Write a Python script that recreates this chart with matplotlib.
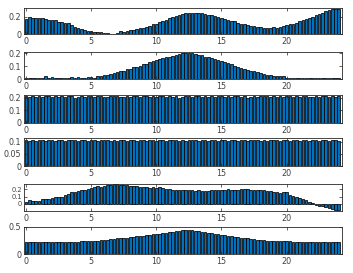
import matplotlib
matplotlib.use("Agg")
import matplotlib.pyplot as plt
import numpy as np

hours = [i * 0.25 for i in range(97)]

s1 = [0.175, 0.195, 0.19, 0.18, 0.185, 0.18, 0.175, 0.165, 0.165, 0.16, 0.14, 0.135,
      0.13, 0.125, 0.10, 0.085, 0.075, 0.06, 0.045, 0.04, 0.035, 0.025, 0.02, 0.025,
      0.015, 0.01, 0.005, 0.004, 0.01, 0.03, 0.025, 0.035, 0.045, 0.05, 0.06, 0.065,
      0.075, 0.085, 0.095, 0.11, 0.12, 0.135, 0.15, 0.165, 0.185, 0.2, 0.21, 0.225,
      0.23, 0.24, 0.245, 0.24, 0.245, 0.24, 0.245, 0.235, 0.225, 0.215, 0.205, 0.2,
      0.185, 0.175, 0.16, 0.155, 0.145, 0.13, 0.12, 0.115, 0.1, 0.095, 0.09, 0.085,
      0.08, 0.07, 0.065, 0.07, 0.08, 0.075, 0.08, 0.09, 0.1, 0.11, 0.12, 0.13,
      0.145, 0.16, 0.17, 0.185, 0.2, 0.215, 0.23, 0.245, 0.26, 0.275, 0.285, 0.285, 0.285]

s2 = [0.005, 0.01, 0.005, 0.01, 0.005, 0.005, 0.02, 0.005, 0.015, 0.005, 0.005, 0.01,
      0.005, 0.005, 0.012, 0.005, 0.015, 0.01, 0.005, 0.015, 0.015, 0.01, 0.02, 0.025,
      0.03, 0.035, 0.04, 0.045, 0.055, 0.06, 0.065, 0.075, 0.08, 0.09, 0.095, 0.105,
      0.115, 0.12, 0.13, 0.14, 0.145, 0.155, 0.16, 0.17, 0.175, 0.18, 0.185, 0.195,
      0.2, 0.205, 0.205, 0.2, 0.195, 0.19, 0.185, 0.175, 0.17, 0.16, 0.155, 0.145,
      0.14, 0.13, 0.125, 0.115, 0.105, 0.095, 0.085, 0.08, 0.07, 0.065, 0.06, 0.055,
      0.045, 0.04, 0.035, 0.03, 0.025, 0.025, 0.025, 0.02, 0.01, 0.01, 0.005, 0.005,
      0.008, 0.005, 0.01, 0.005, 0.008, 0.005, 0.005, 0.01, 0.005, 0.008, 0.005, 0.01, 0.008]

s3 = [0.21, 0.205, 0.212, 0.208, 0.21, 0.203, 0.211, 0.209, 0.206, 0.212, 0.207, 0.21,
      0.204, 0.209, 0.211, 0.2, 0.208, 0.21, 0.206, 0.211, 0.209, 0.203, 0.21, 0.212,
      0.207, 0.205, 0.211, 0.209, 0.21, 0.202, 0.208, 0.211, 0.206, 0.21, 0.212, 0.204,
      0.209, 0.211, 0.207, 0.21, 0.203, 0.209, 0.212, 0.205, 0.21, 0.208, 0.211, 0.2,
      0.207, 0.21, 0.212, 0.206, 0.209, 0.211, 0.204, 0.21, 0.208, 0.212, 0.205, 0.209,
      0.21, 0.203, 0.211, 0.207, 0.21, 0.212, 0.205, 0.209, 0.2, 0.208, 0.211, 0.206,
      0.21, 0.209, 0.212, 0.204, 0.21, 0.207, 0.211, 0.203, 0.209, 0.21, 0.206, 0.212,
      0.201, 0.209, 0.211, 0.205, 0.208, 0.21, 0.204, 0.21, 0.212, 0.207, 0.209, 0.205, 0.21]

s4 = [0.105, 0.103, 0.106, 0.104, 0.107, 0.105, 0.103, 0.106, 0.105, 0.102, 0.106, 0.107,
      0.104, 0.106, 0.105, 0.107, 0.103, 0.105, 0.106, 0.104, 0.107, 0.105, 0.102, 0.106,
      0.105, 0.107, 0.104, 0.106, 0.103, 0.105, 0.107, 0.104, 0.106, 0.105, 0.102, 0.106,
      0.107, 0.104, 0.105, 0.106, 0.103, 0.107, 0.105, 0.104, 0.106, 0.105, 0.107, 0.103,
      0.106, 0.104, 0.105, 0.107, 0.106, 0.103, 0.105, 0.107, 0.104, 0.106, 0.105, 0.102,
      0.106, 0.107, 0.104, 0.105, 0.106, 0.103, 0.107, 0.105, 0.104, 0.106, 0.105, 0.107,
      0.103, 0.106, 0.104, 0.105, 0.107, 0.106, 0.103, 0.105, 0.107, 0.104, 0.106, 0.105,
      0.102, 0.106, 0.107, 0.104, 0.105, 0.106, 0.103, 0.107, 0.105, 0.104, 0.106, 0.105, 0.104]

s5 = [0.03, 0.05, 0.04, 0.04, 0.045, 0.065, 0.065, 0.07, 0.075, 0.1, 0.09, 0.095,
      0.12, 0.14, 0.16, 0.165, 0.18, 0.185, 0.19, 0.2, 0.21, 0.235, 0.245, 0.23,
      0.245, 0.255, 0.26, 0.265, 0.265, 0.255, 0.25, 0.255, 0.245, 0.24, 0.245, 0.235,
      0.23, 0.235, 0.22, 0.225, 0.215, 0.225, 0.21, 0.205, 0.2, 0.19, 0.195, 0.19,
      0.195, 0.19, 0.195, 0.185, 0.18, 0.185, 0.175, 0.18, 0.18, 0.185, 0.19, 0.185,
      0.195, 0.19, 0.2, 0.195, 0.185, 0.19, 0.2, 0.205, 0.2, 0.19, 0.185, 0.195,
      0.19, 0.185, 0.18, 0.175, 0.165, 0.16, 0.155, 0.16, 0.165, 0.125, 0.11, 0.095,
      0.08, 0.065, 0.05, 0.03, 0.015, -0.01, -0.03, -0.025, -0.045, -0.05, -0.065, -0.075, -0.08]

s6 = [0.225, 0.228, 0.226, 0.227, 0.229, 0.226, 0.228, 0.23, 0.227, 0.229, 0.231, 0.228,
      0.225, 0.229, 0.231, 0.228, 0.23,
      0.232, 0.235, 0.238, 0.24,
      0.245, 0.248, 0.252, 0.26,
      0.265, 0.272, 0.28, 0.29,
      0.295, 0.3, 0.305, 0.31,
      0.318, 0.325, 0.332, 0.34,
      0.348, 0.355, 0.362, 0.37,
      0.378, 0.385, 0.392, 0.4,
      0.41, 0.42, 0.43, 0.44,
      0.445, 0.445, 0.44, 0.43,
      0.42, 0.41, 0.4, 0.39,
      0.38, 0.375, 0.365, 0.36,
      0.35, 0.34, 0.33, 0.32,
      0.31, 0.3, 0.295, 0.29,
      0.28, 0.272, 0.265, 0.26,
      0.255, 0.25, 0.248, 0.245,
      0.245, 0.242, 0.24, 0.24,
      0.235, 0.23, 0.228, 0.225,
      0.222, 0.22, 0.22, 0.218,
      0.218, 0.215, 0.215, 0.218,
      0.215, 0.215, 0.213, 0.215]

series = [s1, s2, s3, s4, s5, s6]
ylims = [(0, 0.3), (0, 0.21), (0, 0.22), (0, 0.115), (-0.095, 0.27), (0, 0.5)]
yticks = [[0, 0.2], [0, 0.1, 0.2], [0, 0.1, 0.2], [0, 0.05, 0.1], [0, 0.1, 0.2], [0, 0.5]]
ytlabels = [["0", "0.2"], ["0", "0.1", "0.2"], ["0", "0.1", "0.2"],
            ["0", "0.05", "0.1"], ["0", "0.1", "0.2"], ["0", "0.5"]]
xticks = [0, 5, 10, 15, 20]
xtlabels = ["0", "5", "10", "15", "20"]

W, H = 353, 273
fig = plt.figure(figsize=(W / 100, H / 100), dpi=100)
fig.patch.set_facecolor("white")

tops_px = [8, 52, 95, 138, 184, 227]
bots_px = [34, 79, 123, 166, 211, 254]
left_px, right_px = 24, 342
axcol = "#262626"

for i, s in enumerate(series):
    t, b = tops_px[i], bots_px[i]
    ax = fig.add_axes([left_px / W, 1 - b / H, (right_px - left_px) / W, (b - t) / H])
    ax.bar(hours, s, width=0.2, color="#0072BD", edgecolor="black", linewidth=0.55)
    ax.set_xlim(-0.15, 24.25)
    ax.set_ylim(*ylims[i])
    ax.set_xticks(xticks)
    ax.set_xticklabels(xtlabels)
    ax.set_yticks(yticks[i])
    ax.set_yticklabels(ytlabels[i])
    ax.tick_params(direction="in", length=2.5, width=0.5, labelsize=5.8,
                   colors=axcol, labelcolor="#404040", top=True, right=True, pad=2)
    if i == 4:
        ax.tick_params(axis="y", labelsize=4.8, pad=1.5)
    for sp in ax.spines.values():
        sp.set_color(axcol)
        sp.set_linewidth(0.6)

fig.savefig("out.png", dpi=100)
